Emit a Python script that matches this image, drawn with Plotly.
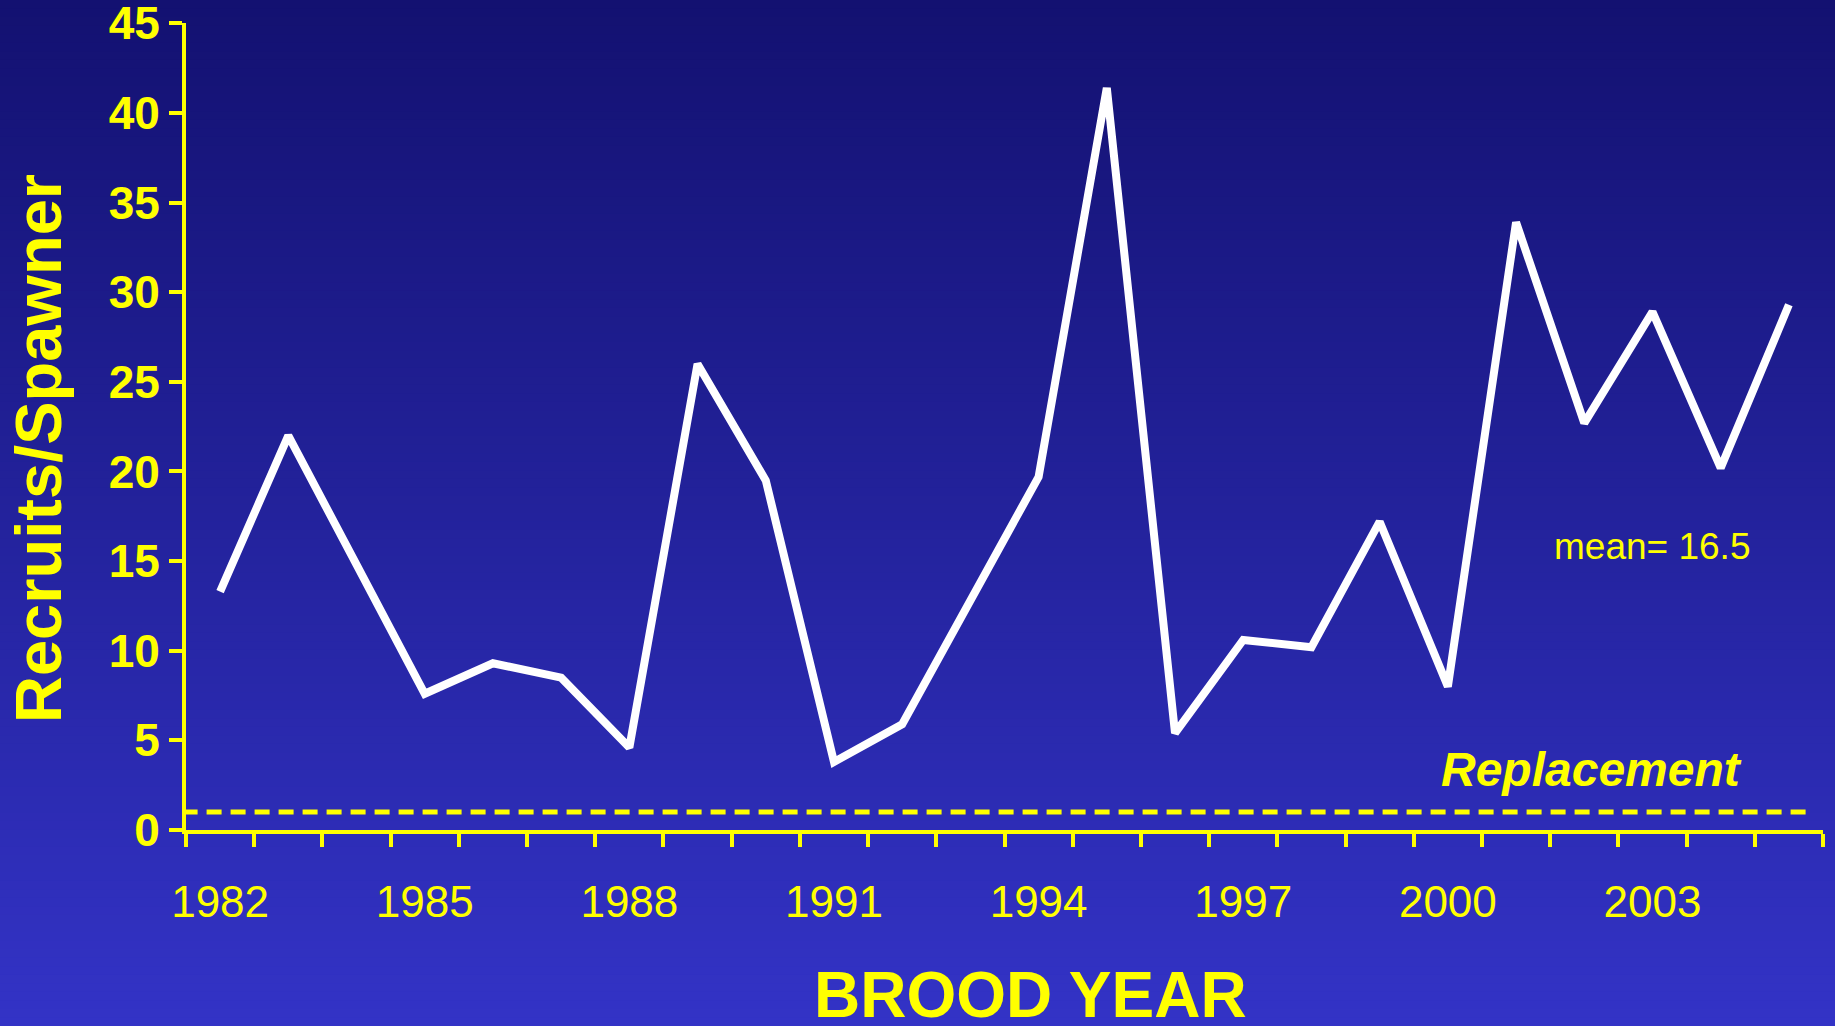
import plotly.graph_objects as go
import numpy as np

# Recruits per spawner by brood year
years = list(range(1982, 2006))
recruits_per_spawner = [
    13.3, 22.0, 14.8, 7.6, 9.3, 8.5, 4.6, 26.0, 19.5, 3.8, 5.9, 12.8,
    19.7, 41.4, 5.4, 10.6, 10.2, 17.2, 8.0, 33.9, 22.7, 28.9, 20.2, 29.3,
]
label_years = list(range(1982, 2004, 3))
y_ticks = list(range(0, 46, 5))
replacement_level = 1.0

mean_rps = float(np.mean(recruits_per_spawner))

YELLOW = "#FFFF00"
FONT = "Liberation Sans, Arial, sans-serif"
W, H = 1835, 1026

fig = go.Figure()

fig.add_trace(go.Scatter(
    x=years, y=recruits_per_spawner, mode="lines",
    line=dict(color="white", width=8),
    hoverinfo="skip", showlegend=False,
))

# Replacement level (1 recruit per spawner)
fig.add_trace(go.Scatter(
    x=[years[0] - 0.55, years[-1] + 0.35], y=[replacement_level, replacement_level],
    mode="lines", line=dict(color=YELLOW, width=5, dash="15px,9px"),
    hoverinfo="skip", showlegend=False,
))

# Vertical background gradient built from thin bands
top = (19, 17, 113)
bottom = (51, 51, 198)
n_bands = 120
shapes = []
for i in range(n_bands):
    t = i / (n_bands - 1)
    c = tuple(round(top[k] + (bottom[k] - top[k]) * t) for k in range(3))
    shapes.append(dict(
        type="rect", xref="paper", yref="paper",
        x0=0, x1=1, y0=max(0, 1 - (i + 1) / n_bands - 0.002), y1=1 - i / n_bands,
        fillcolor="rgb(%d,%d,%d)" % c, line=dict(width=0), layer="below",
    ))

annotations = [
    dict(text="Recruits/Spawner", xref="paper", yref="paper",
         x=38 / W, y=1 - 449 / H, xanchor="center", yanchor="middle",
         textangle=-90, showarrow=False,
         font=dict(family=FONT, size=65, color=YELLOW, weight="bold")),
    dict(text="BROOD YEAR", xref="paper", yref="paper",
         x=1030 / W, y=1 - 995 / H, xanchor="center", yanchor="middle",
         showarrow=False,
         font=dict(family=FONT, size=64, color=YELLOW, weight="bold")),
    dict(text="Replacement", xref="x", yref="y",
         x=2002.1, y=3.35, xanchor="center", yanchor="middle",
         showarrow=False,
         font=dict(family=FONT, size=48, color=YELLOW, weight="bold", style="italic")),
    dict(text="mean= %.1f" % mean_rps, xref="x", yref="y",
         x=2003.0, y=15.8, xanchor="center", yanchor="middle",
         showarrow=False,
         font=dict(family=FONT, size=37, color=YELLOW)),
]

fig.update_layout(
    template="none",
    width=W, height=H,
    margin=dict(l=0, r=0, t=0, b=0, autoexpand=False),
    paper_bgcolor="rgb(35,34,155)",
    plot_bgcolor="rgba(0,0,0,0)",
    shapes=shapes,
    annotations=annotations,
    showlegend=False,
    xaxis=dict(
        domain=[186 / W, 1823 / W],
        range=[years[0] - 0.5, years[-1] + 0.5],
        automargin=False,
        showline=True, linecolor=YELLOW, linewidth=4,
        showgrid=False, zeroline=False,
        tickmode="array", tickvals=label_years,
        ticktext=[str(y) for y in label_years],
        ticks="", ticklabelstandoff=30,
        tickfont=dict(family=FONT, size=44, color=YELLOW),
        minor=dict(
            tickmode="array",
            tickvals=[y - 0.5 for y in years] + [years[-1] + 0.5],
            ticks="outside", ticklen=13, tickwidth=4, tickcolor=YELLOW,
            showgrid=False,
        ),
    ),
    yaxis=dict(
        domain=[1 - 830 / H, 1 - 23.3 / H],
        range=[0, 45.0001],
        automargin=False,
        showline=True, linecolor=YELLOW, linewidth=4,
        showgrid=False, zeroline=False,
        tickmode="array", tickvals=y_ticks,
        ticks="outside", ticklen=13, tickwidth=4, tickcolor=YELLOW,
        ticklabeloverflow="allow",
        tickfont=dict(family=FONT, size=46, color=YELLOW, weight="bold"),
    ),
)

fig.write_html("out.html")
